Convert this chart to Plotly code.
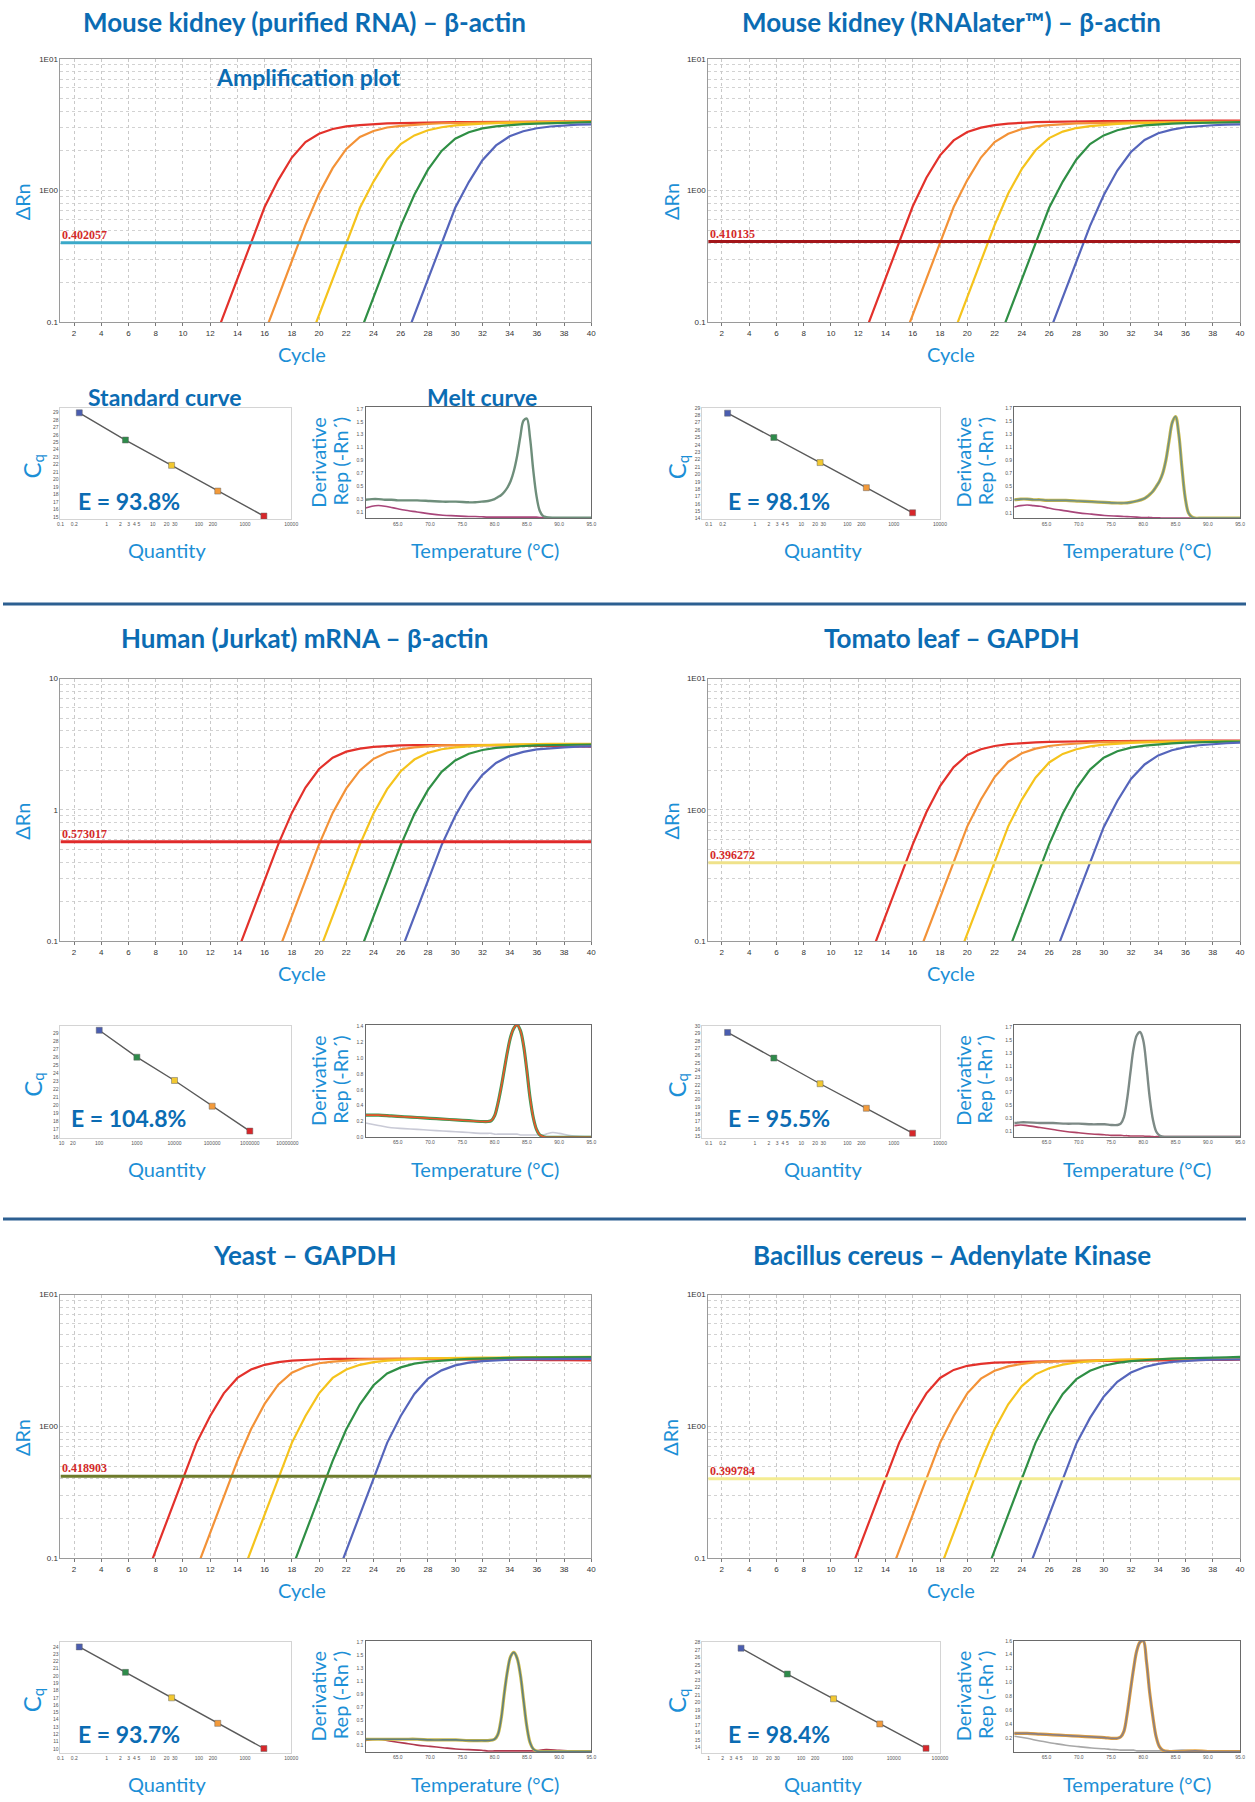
import math
import plotly.graph_objects as go

W, H = 1255, 1802

# ------------------------------------------------------------------ data
TITLES = [
    "Mouse kidney (purified RNA) – β-actin",
    "Mouse kidney (RNAlater™) – β-actin",
    "Human (Jurkat) mRNA – β-actin",
    "Tomato leaf – GAPDH",
    "Yeast – GAPDH",
    "Bacillus cereus – Adenylate Kinase",
]
CYCLE_RANGE = [1, 40]
CYCLE_TICKS = list(range(2, 41, 2))
AMP_MAJOR = [0.1, 1, 10]
AMP_MINOR = [0.2, 0.3, 0.4, 0.5, 0.6, 0.7, 0.8, 0.9, 2, 3, 4, 5, 6, 7, 8, 9]
AMP_LABELS_E = ["0.1", "1E00", "1E01"]
AMP_LABELS_PLAIN = ["0.1", "1", "10"]

THRESHOLDS = [0.402057, 0.410135, 0.573017, 0.396272, 0.418903, 0.399784]
THRESHOLD_TEXT = ["0.402057", "0.410135", "0.573017", "0.396272", "0.418903", "0.399784"]
EFFICIENCY = ["E = 93.8%", "E = 98.1%", "E = 104.8%", "E = 95.5%", "E = 93.7%", "E = 98.4%"]

# amplification curves: first cycle of each curve, then ΔRn per cycle (red, orange, yellow, green, blue)
P1_START = [12, 16, 19, 23, 26]
P1_CURVES = [
    [0.061, 0.114, 0.214, 0.40, 0.75, 1.2, 1.78, 2.33, 2.7, 2.93, 3.07, 3.14, 3.2, 3.23, 3.25, 3.27, 3.28, 3.29, 3.3, 3.3, 3.31, 3.31, 3.32, 3.32, 3.33, 3.33, 3.34, 3.34, 3.35],
    [0.083, 0.156, 0.292, 0.547, 0.95, 1.48, 2.07, 2.55, 2.83, 3.01, 3.1, 3.17, 3.21, 3.24, 3.26, 3.27, 3.28, 3.29, 3.3, 3.3, 3.31, 3.31, 3.32, 3.33, 3.35],
    [0.061, 0.114, 0.214, 0.40, 0.74, 1.17, 1.72, 2.25, 2.62, 2.87, 3.02, 3.12, 3.18, 3.22, 3.25, 3.27, 3.28, 3.29, 3.3, 3.31, 3.32, 3.33],
    [0.083, 0.156, 0.292, 0.54, 0.93, 1.44, 2.0, 2.47, 2.77, 2.96, 3.07, 3.14, 3.19, 3.22, 3.25, 3.27, 3.28, 3.3],
    [0.061, 0.114, 0.214, 0.40, 0.74, 1.16, 1.7, 2.2, 2.58, 2.82, 2.97, 3.06, 3.12, 3.16, 3.18],
]
P2_START = [12, 15, 19, 22, 26]
P2_CURVES = [
    [0.061, 0.114, 0.214, 0.40, 0.76, 1.25, 1.85, 2.4, 2.78, 3.0, 3.14, 3.22, 3.27, 3.3, 3.32, 3.34, 3.35, 3.36, 3.37, 3.37, 3.38, 3.38, 3.39, 3.39, 3.4, 3.4, 3.4, 3.4, 3.4],
    [0.061, 0.114, 0.214, 0.40, 0.75, 1.2, 1.78, 2.33, 2.7, 2.93, 3.07, 3.14, 3.2, 3.23, 3.25, 3.27, 3.28, 3.29, 3.3, 3.3, 3.31, 3.31, 3.32, 3.32, 3.33, 3.33],
    [0.083, 0.156, 0.292, 0.547, 0.95, 1.46, 2.02, 2.5, 2.8, 2.98, 3.08, 3.15, 3.2, 3.23, 3.25, 3.27, 3.28, 3.29, 3.3, 3.3, 3.31, 3.31],
    [0.061, 0.114, 0.214, 0.40, 0.74, 1.17, 1.72, 2.25, 2.62, 2.87, 3.02, 3.12, 3.18, 3.22, 3.25, 3.27, 3.28, 3.29, 3.3],
    [0.083, 0.156, 0.292, 0.54, 0.92, 1.42, 1.96, 2.42, 2.72, 2.9, 3.02, 3.09, 3.13, 3.16, 3.18],
]
P3_START = [14, 17, 20, 23, 26]
P3_CURVES = [
    [0.083, 0.156, 0.292, 0.547, 0.95, 1.48, 2.05, 2.5, 2.78, 2.93, 3.02, 3.07, 3.1, 3.12, 3.13, 3.13, 3.13, 3.12, 3.12, 3.11, 3.1, 3.09, 3.08, 3.07, 3.06, 3.05, 3.04],
    [0.083, 0.156, 0.292, 0.547, 0.95, 1.46, 2.0, 2.45, 2.74, 2.9, 3.0, 3.06, 3.1, 3.12, 3.13, 3.14, 3.14, 3.14, 3.14, 3.14, 3.14, 3.14, 3.14, 3.14],
    [0.083, 0.156, 0.292, 0.547, 0.94, 1.44, 1.97, 2.42, 2.72, 2.9, 3.0, 3.06, 3.1, 3.13, 3.15, 3.16, 3.17, 3.18, 3.18, 3.19, 3.19],
    [0.083, 0.156, 0.292, 0.54, 0.93, 1.42, 1.95, 2.38, 2.68, 2.86, 2.97, 3.03, 3.07, 3.1, 3.12, 3.13, 3.14, 3.15],
    [0.083, 0.156, 0.292, 0.54, 0.9, 1.36, 1.85, 2.28, 2.58, 2.77, 2.89, 2.96, 3.0, 3.03, 3.05],
]
P4_START = [13, 16, 19, 23, 26]
P4_CURVES = [
    [0.083, 0.156, 0.292, 0.547, 0.96, 1.52, 2.12, 2.62, 2.9, 3.07, 3.17, 3.23, 3.27, 3.3, 3.32, 3.33, 3.34, 3.35, 3.35, 3.36, 3.36, 3.36, 3.37, 3.37, 3.37, 3.37, 3.37, 3.37],
    [0.061, 0.114, 0.214, 0.40, 0.75, 1.2, 1.78, 2.33, 2.7, 2.93, 3.07, 3.15, 3.21, 3.25, 3.28, 3.3, 3.31, 3.32, 3.33, 3.34, 3.34, 3.35, 3.35, 3.35, 3.35],
    [0.061, 0.114, 0.214, 0.40, 0.75, 1.2, 1.76, 2.3, 2.67, 2.9, 3.05, 3.14, 3.2, 3.24, 3.27, 3.29, 3.3, 3.31, 3.32, 3.33, 3.33, 3.34],
    [0.083, 0.156, 0.292, 0.547, 0.94, 1.46, 2.03, 2.5, 2.8, 2.98, 3.09, 3.16, 3.21, 3.25, 3.28, 3.3, 3.31, 3.32],
    [0.061, 0.114, 0.214, 0.40, 0.74, 1.17, 1.72, 2.22, 2.6, 2.85, 3.01, 3.11, 3.18, 3.22, 3.25],
]
P5_START = [7, 11, 14, 18, 21]
P5_CURVES = [
    [0.061, 0.114, 0.214, 0.40, 0.75, 1.2, 1.78, 2.33, 2.7, 2.93, 3.07, 3.15, 3.2, 3.23, 3.25, 3.26, 3.26, 3.26, 3.25, 3.25, 3.24, 3.24, 3.23, 3.23, 3.22, 3.21, 3.21, 3.2, 3.2, 3.19, 3.18, 3.18, 3.17, 3.16],
    [0.083, 0.156, 0.292, 0.547, 0.95, 1.48, 2.07, 2.55, 2.83, 3.01, 3.1, 3.17, 3.21, 3.24, 3.26, 3.27, 3.28, 3.28, 3.28, 3.28, 3.28, 3.28, 3.28, 3.28, 3.28, 3.28, 3.28, 3.28, 3.28, 3.28],
    [0.061, 0.114, 0.214, 0.40, 0.75, 1.2, 1.78, 2.33, 2.7, 2.93, 3.07, 3.15, 3.21, 3.25, 3.28, 3.3, 3.31, 3.32, 3.33, 3.33, 3.34, 3.34, 3.35, 3.35, 3.35, 3.36, 3.36],
    [0.083, 0.156, 0.292, 0.547, 0.95, 1.47, 2.05, 2.52, 2.8, 2.99, 3.09, 3.16, 3.21, 3.25, 3.28, 3.3, 3.31, 3.32, 3.33, 3.34, 3.34, 3.35, 3.35],
    [0.061, 0.114, 0.214, 0.40, 0.75, 1.2, 1.76, 2.3, 2.66, 2.9, 3.04, 3.12, 3.17, 3.2, 3.22, 3.23, 3.24, 3.25, 3.25, 3.25],
]
P6_START = [11, 14, 18, 21, 24]
P6_CURVES = [
    [0.061, 0.114, 0.214, 0.40, 0.75, 1.2, 1.78, 2.33, 2.68, 2.88, 2.98, 3.04, 3.07, 3.09, 3.1, 3.11, 3.12, 3.13, 3.14, 3.15, 3.15, 3.16, 3.16, 3.17, 3.17, 3.18, 3.18, 3.19, 3.19, 3.2],
    [0.061, 0.114, 0.214, 0.40, 0.75, 1.2, 1.78, 2.3, 2.64, 2.85, 2.98, 3.06, 3.11, 3.14, 3.16, 3.18, 3.19, 3.2, 3.21, 3.22, 3.23, 3.24, 3.25, 3.26, 3.27, 3.28, 3.29],
    [0.083, 0.156, 0.292, 0.547, 0.95, 1.47, 2.02, 2.48, 2.76, 2.94, 3.05, 3.12, 3.17, 3.2, 3.22, 3.24, 3.25, 3.26, 3.27, 3.28, 3.29, 3.3, 3.3],
    [0.061, 0.114, 0.214, 0.40, 0.75, 1.2, 1.76, 2.28, 2.64, 2.88, 3.03, 3.12, 3.18, 3.23, 3.26, 3.29, 3.31, 3.33, 3.34, 3.36],
    [0.061, 0.114, 0.214, 0.40, 0.74, 1.16, 1.68, 2.18, 2.56, 2.82, 2.98, 3.08, 3.14, 3.18, 3.2, 3.21, 3.22],
]

# standard curves (quantity, Cq)
STD_QTY_A = [0.256, 2.56, 25.6, 256, 2560]
STD_QTY_JURKAT = [100, 1000, 10000, 100000, 1000000]
STD_QTY_BACILLUS = [5, 50, 500, 5000, 50000]
STD1_CQ = [28.95, 25.3, 21.9, 18.45, 15.1]
STD2_CQ = [28.3, 25.0, 21.6, 18.2, 14.8]
STD3_CQ = [29.35, 26.0, 23.1, 19.9, 16.8]
STD4_CQ = [29.15, 25.65, 22.15, 18.8, 15.4]
STD5_CQ = [24.0, 20.5, 17.0, 13.5, 10.05]
STD6_CQ = [27.25, 23.8, 20.5, 17.15, 13.9]
QTY_TICKS_A = [0.1, 0.2, 1, 2, 3, 4, 5, 10, 20, 30, 100, 200, 1000, 10000]
QTY_TICKS_JURKAT = [10, 20, 100, 1000, 10000, 100000, 1000000, 10000000]
QTY_TICKS_BACILLUS = [1, 2, 3, 4, 5, 10, 20, 30, 100, 200, 1000, 10000, 100000]

# melt curves (temperature °C, derivative reporter)
MELT_TICKS = [65, 70, 75, 80, 85, 90, 95]
MELT1_T = [60, 61, 62, 63, 64, 65, 66, 68, 70, 72, 74, 76, 77, 78, 79, 80, 80.5, 81, 81.5, 82, 82.5, 83, 83.5, 84, 84.5, 85, 85.5, 86, 86.5, 87, 87.5, 88, 89, 90, 92, 95]
MELT1_SAMPLE = [0.29, 0.30, 0.30, 0.29, 0.29, 0.28, 0.28, 0.28, 0.27, 0.26, 0.26, 0.25, 0.25, 0.26, 0.27, 0.30, 0.33, 0.36, 0.41, 0.48, 0.58, 0.74, 0.97, 1.27, 1.52, 1.55, 1.25, 0.75, 0.35, 0.12, 0.04, 0.02, 0.01, 0.01, 0.01, 0.01]
MELT1_NTC = [0.16, 0.19, 0.20, 0.19, 0.17, 0.15, 0.13, 0.10, 0.07, 0.05, 0.04, 0.03, 0.03, 0.025, 0.02, 0.02, 0.02, 0.02, 0.02, 0.02, 0.02, 0.02, 0.02, 0.02, 0.02, 0.02, 0.02, 0.02, 0.02, 0.015, 0.015, 0.01, 0.01, 0.01, 0.01, 0.01]
MELT2_T = MELT1_T
MELT2_SAMPLE = [0.30, 0.31, 0.31, 0.30, 0.30, 0.29, 0.29, 0.29, 0.28, 0.27, 0.26, 0.25, 0.25, 0.26, 0.28, 0.31, 0.34, 0.38, 0.43, 0.50, 0.58, 0.70, 0.90, 1.20, 1.48, 1.57, 1.30, 0.78, 0.33, 0.10, 0.04, 0.02, 0.02, 0.02, 0.02, 0.02]
MELT2_NTC = [0.19, 0.21, 0.22, 0.21, 0.20, 0.18, 0.16, 0.13, 0.10, 0.08, 0.06, 0.05, 0.045, 0.04, 0.035, 0.03, 0.03, 0.03, 0.025, 0.025, 0.025, 0.02, 0.02, 0.02, 0.02, 0.02, 0.02, 0.02, 0.02, 0.02, 0.02, 0.02, 0.02, 0.02, 0.02, 0.02]
MELT3_T = [60, 62, 64, 66, 68, 70, 72, 74, 76, 78, 79, 79.5, 80, 80.5, 81, 81.5, 82, 82.5, 83, 83.5, 84, 84.5, 85, 85.5, 86, 86.5, 87, 87.5, 88, 89, 90, 92, 95]
MELT3_SAMPLE = [0.28, 0.28, 0.27, 0.26, 0.25, 0.24, 0.23, 0.22, 0.21, 0.20, 0.20, 0.21, 0.27, 0.42, 0.62, 0.85, 1.08, 1.27, 1.38, 1.42, 1.35, 1.16, 0.85, 0.50, 0.25, 0.10, 0.03, 0.01, 0.0, 0.0, 0.0, 0.0, 0.0]
MELT3_NTC = [0.18, 0.15, 0.12, 0.11, 0.10, 0.09, 0.08, 0.07, 0.06, 0.05, 0.05, 0.05, 0.04, 0.04, 0.04, 0.04, 0.04, 0.04, 0.04, 0.04, 0.03, 0.03, 0.03, 0.03, 0.03, 0.03, 0.03, 0.03, 0.04, 0.06, 0.05, 0.02, 0.01]
MELT4_T = [60, 61, 62, 64, 66, 68, 70, 72, 74, 75, 76, 76.5, 77, 77.5, 78, 78.5, 79, 79.5, 80, 80.5, 81, 81.5, 82, 82.5, 83, 84, 86, 88, 90, 92, 95]
MELT4_SAMPLE = [0.23, 0.24, 0.24, 0.23, 0.23, 0.22, 0.22, 0.21, 0.21, 0.20, 0.20, 0.22, 0.32, 0.60, 1.00, 1.38, 1.58, 1.63, 1.50, 1.10, 0.62, 0.28, 0.10, 0.04, 0.02, 0.015, 0.015, 0.015, 0.015, 0.015, 0.015]
MELT4_NTC = [0.19, 0.20, 0.19, 0.16, 0.13, 0.10, 0.08, 0.06, 0.05, 0.04, 0.04, 0.04, 0.035, 0.035, 0.03, 0.03, 0.03, 0.03, 0.03, 0.025, 0.025, 0.02, 0.02, 0.02, 0.02, 0.02, 0.02, 0.02, 0.02, 0.02, 0.02]
MELT5_T = [60, 62, 64, 66, 68, 70, 72, 74, 76, 78, 79, 80, 80.5, 81, 81.5, 82, 82.5, 83, 83.5, 84, 84.5, 85, 85.5, 86, 86.5, 87, 88, 90, 92, 95]
MELT5_SAMPLE = [0.20, 0.20, 0.20, 0.20, 0.20, 0.19, 0.19, 0.19, 0.18, 0.18, 0.18, 0.20, 0.27, 0.50, 0.90, 1.25, 1.48, 1.54, 1.45, 1.20, 0.80, 0.40, 0.15, 0.05, 0.02, 0.01, 0.01, 0.01, 0.01, 0.01]
MELT5_NTC = [0.18, 0.20, 0.17, 0.14, 0.11, 0.09, 0.07, 0.05, 0.04, 0.03, 0.02, 0.02, 0.02, 0.02, 0.02, 0.02, 0.02, 0.02, 0.02, 0.02, 0.02, 0.02, 0.02, 0.02, 0.02, 0.03, 0.04, 0.03, 0.02, 0.01]
MELT6_T = [60, 62, 64, 66, 68, 70, 72, 74, 75, 76, 76.5, 77, 77.5, 78, 78.5, 79, 79.5, 80, 80.5, 81, 81.5, 82, 82.5, 83, 84, 86, 88, 90, 92, 95]
MELT6_SAMPLE = [0.27, 0.27, 0.26, 0.25, 0.24, 0.23, 0.22, 0.21, 0.20, 0.20, 0.22, 0.30, 0.55, 0.88, 1.20, 1.46, 1.58, 1.60, 1.30, 0.85, 0.50, 0.22, 0.08, 0.03, 0.01, 0.01, 0.02, 0.01, 0.01, 0.01]
MELT6_NTC = [0.23, 0.20, 0.16, 0.13, 0.10, 0.08, 0.06, 0.05, 0.04, 0.035, 0.03, 0.03, 0.03, 0.03, 0.03, 0.02, 0.02, 0.02, 0.02, 0.02, 0.02, 0.02, 0.02, 0.02, 0.02, 0.03, 0.02, 0.01, 0.01, 0.01]

# ------------------------------------------------------------------ styling
FONT = "Lato, 'Noto Sans', sans-serif"
TICK_FONT = "'Liberation Sans', Arial, sans-serif"
TITLE_BLUE = "#0b6cb3"
LABEL_BLUE = "#1c8fd6"
CURVE_COLORS = ["#e3312b", "#f39237", "#f5c31c", "#2f8f45", "#5565bb"]
STD_COLORS = ["#4a5db0", "#2e8b4a", "#f2c830", "#f39a3a", "#d8262a"]
THR_COLORS = ["#3aa9c9", "#a3161a", "#e02a2a", "#efe28a", "#6e7b2c", "#f4ec92"]

fig = go.Figure()
axes = {}
annotations = []
shapes = []
counter = [0]


def new_axes(x0, x1, y0, y1, xopts, yopts):
    counter[0] += 1
    n = counter[0]
    s = "" if n == 1 else str(n)
    axes["xaxis" + s] = dict(domain=[x0 / W, x1 / W], anchor="y" + s, **xopts)
    axes["yaxis" + s] = dict(domain=[1 - y1 / H, 1 - y0 / H], anchor="x" + s, **yopts)
    return "x" + s, "y" + s


def text(px, py, s, size, color=LABEL_BLUE, bold=False, angle=0, family=FONT, xanchor="center"):
    annotations.append(dict(
        x=px / W, y=1 - py / H, xref="paper", yref="paper",
        text=("<b>%s</b>" % s) if bold else s, showarrow=False,
        font=dict(size=size, color=color, family=family),
        textangle=angle, xanchor=xanchor, yanchor="middle"))


COLS = [
    dict(amp=(58, 594), std=(58, 291), melt=(366, 594), title=304, drn=19, cq=29,
         deriv=(318, 340), e=127, qty=166, temp=487, cycle=302),
    dict(amp=(712, 1249), std=(706, 946), melt=(1021, 1249), title=958, drn=674, cq=680,
         deriv=(969, 991), e=783, qty=828, temp=1145, cycle=957),
]
ROWS = [
    dict(title=18, amp=(55, 320), std=(406, 518)),
    dict(title=637, amp=(678, 942), std=(1027, 1140)),
    dict(title=1257, amp=(1297, 1562), std=(1646, 1758)),
]

PANELS = [
    dict(curves=P1_CURVES, starts=P1_START, ylab=AMP_LABELS_E,
         qty=STD_QTY_A, cq=STD1_CQ, qticks=QTY_TICKS_A, qrange=[-1, 4], cqrange=[14.65, 29.6],
         mt=MELT1_T, ms=MELT1_SAMPLE, mn=MELT1_NTC, mrange=[0, 1.73], mticks=[0.1, 0.3, 0.5, 0.7, 0.9, 1.1, 1.3, 1.5, 1.7],
         scol=["#6e8e7b"], ncol="#a8467a"),
    dict(curves=P2_CURVES, starts=P2_START, ylab=AMP_LABELS_E,
         qty=STD_QTY_A, cq=STD2_CQ, qticks=QTY_TICKS_A, qrange=[-1.14, 4.0], cqrange=[13.9, 29.0],
         mt=MELT2_T, ms=MELT2_SAMPLE, mn=MELT2_NTC, mrange=[0.015, 1.715], mticks=[0.1, 0.3, 0.5, 0.7, 0.9, 1.1, 1.3, 1.5, 1.7],
         scol=["#c9b94a", "#6f8f85"], ncol="#a8467a"),
    dict(curves=P3_CURVES, starts=P3_START, ylab=AMP_LABELS_PLAIN,
         qty=STD_QTY_JURKAT, cq=STD3_CQ, qticks=QTY_TICKS_JURKAT, qrange=[0.97, 7.1], cqrange=[15.9, 29.9],
         mt=MELT3_T, ms=MELT3_SAMPLE, mn=MELT3_NTC, mrange=[0, 1.42], mticks=[0, 0.2, 0.4, 0.6, 0.8, 1.0, 1.2, 1.4],
         scol=["#3d9a55", "#e9552a"], ncol="#c9cad6"),
    dict(curves=P4_CURVES, starts=P4_START, ylab=AMP_LABELS_E,
         qty=STD_QTY_A, cq=STD4_CQ, qticks=QTY_TICKS_A, qrange=[-1.14, 4.0], cqrange=[14.7, 30.05],
         mt=MELT4_T, ms=MELT4_SAMPLE, mn=MELT4_NTC, mrange=[0.01, 1.74], mticks=[0.1, 0.3, 0.5, 0.7, 0.9, 1.1, 1.3, 1.5, 1.7],
         scol=["#7d8a86"], ncol="#b04466"),
    dict(curves=P5_CURVES, starts=P5_START, ylab=AMP_LABELS_E,
         qty=STD_QTY_A, cq=STD5_CQ, qticks=QTY_TICKS_A, qrange=[-1, 4], cqrange=[9.4, 24.7],
         mt=MELT5_T, ms=MELT5_SAMPLE, mn=MELT5_NTC, mrange=[0, 1.72], mticks=[0.1, 0.3, 0.5, 0.7, 0.9, 1.1, 1.3, 1.5, 1.7],
         scol=["#c9b94a", "#5f7f80"], ncol="#b0384e"),
    dict(curves=P6_CURVES, starts=P6_START, ylab=AMP_LABELS_E,
         qty=STD_QTY_BACILLUS, cq=STD6_CQ, qticks=QTY_TICKS_BACILLUS, qrange=[-0.14, 5.0], cqrange=[13.25, 28.1],
         mt=MELT6_T, ms=MELT6_SAMPLE, mn=MELT6_NTC, mrange=[0, 1.6], mticks=[0.2, 0.4, 0.6, 0.8, 1.0, 1.2, 1.4, 1.6],
         scol=["#e4a03a", "#8a7f84"], ncol="#a8a8a8"),
]


def fmt_num(v):
    return ("%g" % v) if v < 100000 else str(int(v))


for i, p in enumerate(PANELS):
    col = COLS[i % 2]
    row = ROWS[i // 2]
    ax0, ax1 = col["amp"]
    ay0, ay1 = row["amp"]

    # ---------------- amplification plot
    xa, ya = new_axes(
        ax0, ax1, ay0, ay1,
        dict(range=CYCLE_RANGE, tickvals=CYCLE_TICKS, tickangle=0, showgrid=True, gridcolor="#c9c9c9",
             griddash="dot", gridwidth=1, showline=True, linecolor="#9a9a9a", mirror=True,
             zeroline=False, ticks="outside", ticklen=3, tickcolor="#777",
             tickfont=dict(size=8, color="#333", family=TICK_FONT)),
        dict(type="log", range=[-1, 1], tickvals=AMP_MAJOR, ticktext=p["ylab"],
             showgrid=True, gridcolor="#cfcfcf", griddash="dot", gridwidth=1,
             minor=dict(tickvals=AMP_MINOR, showgrid=True, gridcolor="#d2d2d2",
                        griddash="dot", gridwidth=1, ticks=""),
             showline=True, linecolor="#9a9a9a", mirror=True, zeroline=False,
             ticks="", tickfont=dict(size=8, color="#333", family=TICK_FONT)),
    )
    for vals, start, color in zip(p["curves"], p["starts"], CURVE_COLORS):
        fig.add_trace(go.Scatter(
            x=list(range(start, start + len(vals))), y=vals, mode="lines",
            line=dict(color=color, width=2.2), xaxis=xa, yaxis=ya,
            showlegend=False, hoverinfo="skip"))
    thr = THRESHOLDS[i]
    fig.add_trace(go.Scatter(
        x=CYCLE_RANGE, y=[thr, thr], mode="lines",
        line=dict(color=THR_COLORS[i], width=3), xaxis=xa, yaxis=ya,
        showlegend=False, hoverinfo="skip"))
    annotations.append(dict(
        x=CYCLE_RANGE[0], y=math.log10(thr), xref=xa, yref=ya, text="<b>%s</b>" % THRESHOLD_TEXT[i],
        showarrow=False, xanchor="left", yanchor="bottom", yshift=-1,
        font=dict(size=12, color="#d42a2a", family="'Liberation Serif', 'Times New Roman', serif")))

    text(col["title"], row["title"], TITLES[i], 26, TITLE_BLUE, bold=True)
    text(col["drn"], (ay0 + ay1) / 2 + 11, "ΔRn", 20, angle=-90)
    text(col["cycle"], ay1 + 32, "Cycle", 20)

    # ---------------- standard curve
    sx0, sx1 = col["std"]
    sy0, sy1 = row["std"]
    xs, ys = new_axes(
        sx0, sx1, sy0, sy1,
        dict(type="log", range=p["qrange"], tickvals=p["qticks"], tickangle=0,
             ticktext=[fmt_num(v) for v in p["qticks"]], showgrid=False,
             showline=True, linecolor="#d4d4d4", mirror=True, zeroline=False,
             ticks="", tickfont=dict(size=5, color="#555", family=TICK_FONT)),
        dict(range=p["cqrange"], dtick=1, showgrid=False, showline=True,
             linecolor="#d4d4d4", mirror=True, zeroline=False, ticks="",
             tickfont=dict(size=5, color="#555", family=TICK_FONT)),
    )
    fig.add_trace(go.Scatter(
        x=p["qty"], y=p["cq"], mode="lines", line=dict(color="#5a5a5a", width=1.4),
        xaxis=xs, yaxis=ys, showlegend=False, hoverinfo="skip"))
    fig.add_trace(go.Scatter(
        x=p["qty"], y=p["cq"], mode="markers",
        marker=dict(symbol="square", size=6, color=STD_COLORS,
                    line=dict(color="#666", width=0.5)),
        xaxis=xs, yaxis=ys, showlegend=False, hoverinfo="skip"))
    cy = (sy0 + sy1) / 2
    text(col["cq"], cy + 7, "C", 24, angle=-90)
    text(col["cq"] + 6, cy - 5, "q", 15, angle=-90)
    text(col["e"], sy0 + 93, EFFICIENCY[i], 23, TITLE_BLUE, bold=True)
    text(col["qty"], sy1 + 31, "Quantity", 20)

    # ---------------- melt curve
    mx0, mx1 = col["melt"]
    xm, ym = new_axes(
        mx0, mx1, sy0 - 1, sy1 - 1,
        dict(range=[60, 95], tickvals=MELT_TICKS, ticktext=["%.1f" % v for v in MELT_TICKS],
             tickangle=0, showgrid=False, showline=True, linecolor="#6a6a6a", linewidth=1.2,
             mirror=True, zeroline=False, ticks="",
             tickfont=dict(size=5, color="#555", family=TICK_FONT)),
        dict(range=p["mrange"], tickvals=p["mticks"], ticktext=["%.1f" % v for v in p["mticks"]],
             showgrid=False, showline=True, linecolor="#6a6a6a", linewidth=1.2, mirror=True,
             zeroline=False, ticks="", tickfont=dict(size=5, color="#555", family=TICK_FONT)),
    )
    fig.add_trace(go.Scatter(
        x=p["mt"], y=p["mn"], mode="lines", line=dict(color=p["ncol"], width=1.6, shape="spline"),
        xaxis=xm, yaxis=ym, showlegend=False, hoverinfo="skip"))
    widths = [3.2, 1.6]
    for k, c in enumerate(p["scol"]):
        fig.add_trace(go.Scatter(
            x=p["mt"], y=p["ms"], mode="lines",
            line=dict(color=c, width=widths[k] if len(p["scol"]) > 1 else 2.4, shape="spline"),
            xaxis=xm, yaxis=ym, showlegend=False, hoverinfo="skip"))
    dx0, dx1 = col["deriv"]
    text(dx0, cy - 2, "Derivative", 20, angle=-90)
    text(dx1, cy - 2, "Rep (-Rn´)", 20, angle=-90)
    text(col["temp"], sy1 + 31, "Temperature (°C)", 20)

# section labels (first panel only)
text(308, 73, "Amplification plot", 23, TITLE_BLUE, bold=True)
text(164, 395, "Standard curve", 23, TITLE_BLUE, bold=True)
text(484, 395, "Melt curve", 23, TITLE_BLUE, bold=True)

# row separators
for sy in (603, 1221):
    shapes.append(dict(type="line", xref="paper", yref="paper", x0=0, x1=1,
                       y0=1 - sy / H, y1=1 - sy / H, line=dict(color="#2c5f91", width=3)))

fig.update_layout(
    width=W, height=H, margin=dict(l=0, r=0, t=0, b=0),
    paper_bgcolor="white", plot_bgcolor="white",
    annotations=annotations, shapes=shapes, showlegend=False,
    font=dict(family=FONT), **axes)

fig.write_html("out.html")
